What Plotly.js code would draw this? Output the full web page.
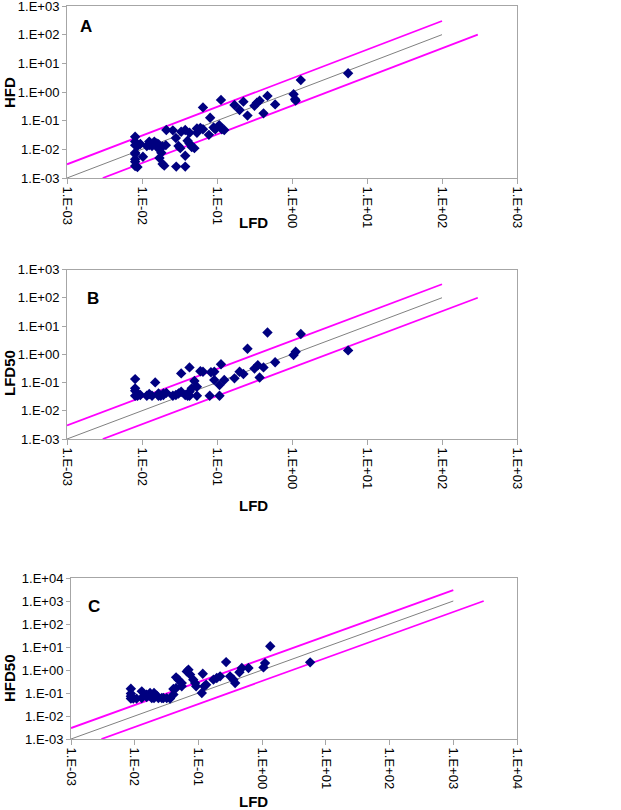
<!DOCTYPE html>
<html>
<head>
<meta charset="utf-8">
<script src="https://cdn.plot.ly/plotly-3.0.1.min.js"></script>
<style>
  body { margin: 0; background: #fff; }
  #plot_data { width: 621px; height: 810px; }
</style>
</head>
<body>
<div id="plot_data"></div>
<script>
// panel A : LFD vs HFD
var lfdA = [0.0081, 0.0081, 0.0081, 0.0081, 0.0081, 0.0081, 0.0081, 0.0081,
  0.0087, 0.0087, 0.0095, 0.0103, 0.0116, 0.0125, 0.0125, 0.0136, 0.0146,
  0.0158, 0.0158, 0.0166, 0.0171, 0.0171, 0.0181, 0.0188, 0.0188, 0.0198,
  0.0208, 0.0211, 0.0258, 0.0283, 0.0286, 0.0307, 0.0324, 0.0333, 0.0377,
  0.0377, 0.0377, 0.0405, 0.043, 0.043, 0.046, 0.050, 0.054, 0.054, 0.060,
  0.065, 0.065, 0.078, 0.081, 0.090, 0.095, 0.107, 0.113, 0.116, 0.125,
  0.171, 0.2, 0.225, 0.255, 0.316, 0.34, 0.37, 0.417, 0.471, 0.596,
  1.05, 1.1, 1.12, 1.31, 5.6];
var hfdA = [0.0275, 0.0186, 0.014, 0.0076, 0.0069, 0.0045, 0.0037, 0.0026,
  0.0024, 0.013, 0.0153, 0.0055, 0.013, 0.0186, 0.014, 0.013, 0.0186,
  0.016, 0.012, 0.015, 0.0105, 0.005, 0.0076, 0.0125, 0.0031, 0.0027,
  0.014, 0.047, 0.046, 0.025, 0.0025, 0.013, 0.011, 0.041, 0.047,
  0.006, 0.0025, 0.02, 0.038, 0.016, 0.012, 0.011, 0.053, 0.038, 0.056,
  0.05, 0.29, 0.032, 0.127, 0.058, 0.05, 0.07, 0.53, 0.05, 0.047,
  0.352, 0.235, 0.46, 0.15, 0.33, 0.42, 0.5, 0.18, 0.73, 0.37,
  0.83, 0.56, 0.5, 2.6, 4.5];

// panel B : LFD vs LFD50
var lfdB = [0.0081, 0.0081, 0.0081, 0.0081, 0.0087, 0.0095, 0.0116, 0.0125,
  0.0136, 0.0150, 0.0166, 0.0166, 0.0178, 0.0193, 0.0193, 0.0211, 0.0258,
  0.0283, 0.0307, 0.0333, 0.0333, 0.0377, 0.0405, 0.043, 0.043, 0.043,
  0.046, 0.050, 0.054, 0.054, 0.060, 0.065, 0.080, 0.083, 0.092, 0.092,
  0.108, 0.108, 0.113, 0.125, 0.171, 0.2, 0.225, 0.255, 0.316, 0.35,
  0.37, 0.417, 0.471, 0.596, 1.05, 1.12, 1.31, 5.6];
var lfd50B = [0.132, 0.062, 0.051, 0.034, 0.034, 0.036, 0.034, 0.039,
  0.034, 0.101, 0.034, 0.041, 0.034, 0.036, 0.041, 0.043, 0.034,
  0.036, 0.041, 0.21, 0.047, 0.036, 0.034, 0.343, 0.034, 0.047,
  0.062, 0.113, 0.034, 0.071, 0.25, 0.24, 0.034, 0.23, 0.24, 0.122,
  0.081, 0.034, 0.44, 0.122, 0.14, 0.24, 0.2, 1.57, 0.31, 0.41,
  0.15, 0.343, 5.9, 0.52, 0.94, 1.23, 5.2, 1.37];

// panel C : LFD vs HFD50
var lfdC = [0.0087, 0.0087, 0.0087, 0.0087, 0.0095, 0.0107, 0.0129, 0.0129,
  0.0154, 0.0154, 0.0174, 0.0185, 0.0201, 0.0201, 0.0222, 0.0235, 0.0266,
  0.0282, 0.0318, 0.0359, 0.0405, 0.0405, 0.0446, 0.0446, 0.0485, 0.0547,
  0.0547, 0.0656, 0.0697, 0.074, 0.083, 0.0887, 0.092, 0.113, 0.117,
  0.123, 0.132, 0.172, 0.194, 0.219, 0.272, 0.314, 0.355, 0.377, 0.44,
  0.48, 0.61, 1.05, 1.11, 1.34, 5.67];
var hfd50C = [0.154, 0.094, 0.072, 0.057, 0.057, 0.057, 0.118, 0.061,
  0.067, 0.085, 0.1, 0.06, 0.1, 0.061, 0.077, 0.06, 0.061,
  0.061, 0.06, 0.057, 0.149, 0.085, 0.48, 0.165, 0.38, 0.27,
  0.195, 0.87, 1.03, 0.63, 0.38, 0.27, 0.195, 0.1, 0.69,
  0.195, 0.23, 0.38, 0.45, 0.53, 2.2, 0.53, 0.38, 0.27, 0.8,
  1.22, 1.22, 1.3, 2.0, 10.7, 2.15];

// reference lines (1:1 and factor 3 bands)
var idX_AB = [0.001, 100];
var idY_AB = [0.001, 100];
var upX_AB = [0.001, 100];
var upY_AB = [0.003, 300];
var loX_AB = [0.003, 300];
var loY_AB = [0.001, 100];

var idX_C = [0.001, 1000];
var idY_C = [0.001, 1000];
var upX_C = [0.001, 1000];
var upY_C = [0.003, 3000];
var loX_C = [0.003, 3000];
var loY_C = [0.001, 1000];

// tick labels
var tickVals6 = [0.001, 0.01, 0.1, 1, 10, 100, 1000];
var tickText6 = ["1.E-03", "1.E-02", "1.E-01", "1.E+00", "1.E+01", "1.E+02", "1.E+03"];
var tickVals7 = [0.001, 0.01, 0.1, 1, 10, 100, 1000, 10000];
var tickText7 = ["1.E-03", "1.E-02", "1.E-01", "1.E+00", "1.E+01", "1.E+02", "1.E+03", "1.E+04"];

const W = 621;
const H = 810;
function px(x){ return x / W; }
function py(y){ return 1 - y / H; }

var tickFont = {family: 'Liberation Sans, Arial, sans-serif', size: 13, color: '#000'};
var titleFont = {family: 'Liberation Sans, Arial, sans-serif', size: 15, color: '#000', weight: 'bold'};
var letterFont = {family: 'Liberation Sans, Arial, sans-serif', size: 17, color: '#000', weight: 'bold'};

function pointTrace(x, y, xa, ya){
  return {x: x, y: y, xaxis: xa, yaxis: ya, type: 'scatter', mode: 'markers',
    marker: {symbol: 'diamond', size: 8, color: '#000080'}, showlegend: false, hoverinfo: 'skip'};
}
function lineTrace(x, y, xa, ya, color, width){
  return {x: x, y: y, xaxis: xa, yaxis: ya, type: 'scatter', mode: 'lines',
    line: {color: color, width: width}, showlegend: false, hoverinfo: 'skip'};
}

function xAxis(dom, anchor, rng, vals, text){
  return {type: 'log', domain: dom, anchor: anchor, range: rng, tickvals: vals, ticktext: text,
    tickangle: 90, tickfont: tickFont, showline: true, mirror: true, linecolor: '#a6a6a6',
    linewidth: 1, ticks: 'outside', ticklen: 5, tickcolor: '#a6a6a6', showgrid: false, zeroline: false,
    ticklabeloverflow: 'allow'};
}
function yAxis(dom, anchor, rng, vals, text){
  return {type: 'log', domain: dom, anchor: anchor, range: rng, tickvals: vals, ticktext: text,
    tickfont: tickFont, showline: true, mirror: true, linecolor: '#a6a6a6',
    linewidth: 1, ticks: 'outside', ticklen: 4, tickcolor: '#a6a6a6', showgrid: false, zeroline: false,
    ticklabeloverflow: 'allow'};
}

var data = [
  lineTrace(idX_AB, idY_AB, 'x', 'y', '#808080', 1),
  lineTrace(upX_AB, upY_AB, 'x', 'y', '#ff00ff', 1.8),
  lineTrace(loX_AB, loY_AB, 'x', 'y', '#ff00ff', 1.8),
  pointTrace(lfdA, hfdA, 'x', 'y'),
  lineTrace(idX_AB, idY_AB, 'x2', 'y2', '#808080', 1),
  lineTrace(upX_AB, upY_AB, 'x2', 'y2', '#ff00ff', 1.8),
  lineTrace(loX_AB, loY_AB, 'x2', 'y2', '#ff00ff', 1.8),
  pointTrace(lfdB, lfd50B, 'x2', 'y2'),
  lineTrace(idX_C, idY_C, 'x3', 'y3', '#808080', 1),
  lineTrace(upX_C, upY_C, 'x3', 'y3', '#ff00ff', 1.8),
  lineTrace(loX_C, loY_C, 'x3', 'y3', '#ff00ff', 1.8),
  pointTrace(lfdC, hfd50C, 'x3', 'y3')
];

function note(text, x, y, font, angle){
  return {text: text, xref: 'paper', yref: 'paper', x: px(x), y: py(y),
    xanchor: 'center', yanchor: 'middle', showarrow: false, font: font, textangle: angle || 0};
}

var layout = {
  width: W, height: H,
  margin: {l: 0, r: 0, t: 0, b: 0},
  paper_bgcolor: '#fff', plot_bgcolor: '#fff',
  xaxis: xAxis([px(67), px(517)], 'y', [-3, 3], tickVals6, tickText6),
  yaxis: yAxis([py(178), py(6)], 'x', [-3, 3], tickVals6, tickText6),
  xaxis2: xAxis([px(67), px(517)], 'y2', [-3, 3], tickVals6, tickText6),
  yaxis2: yAxis([py(439), py(269.5)], 'x2', [-3, 3], tickVals6, tickText6),
  xaxis3: xAxis([px(71), px(517)], 'y3', [-3, 4], tickVals7, tickText7),
  yaxis3: yAxis([py(739), py(578)], 'x3', [-3, 4], tickVals7, tickText7),
  annotations: [
    note('A', 86, 26, letterFont),
    note('B', 93, 298, letterFont),
    note('C', 94, 606, letterFont),
    note('HFD', 9, 93, titleFont, -90),
    note('LFD50', 9, 373, titleFont, -90),
    note('HFD50', 9, 678, titleFont, -90),
    note('LFD', 253, 223, titleFont),
    note('LFD', 253, 505, titleFont),
    note('LFD', 253, 801, titleFont)
  ]
};

Plotly.newPlot('plot_data', data, layout, {staticPlot: true, displayModeBar: false});
</script>
</body>
</html>
